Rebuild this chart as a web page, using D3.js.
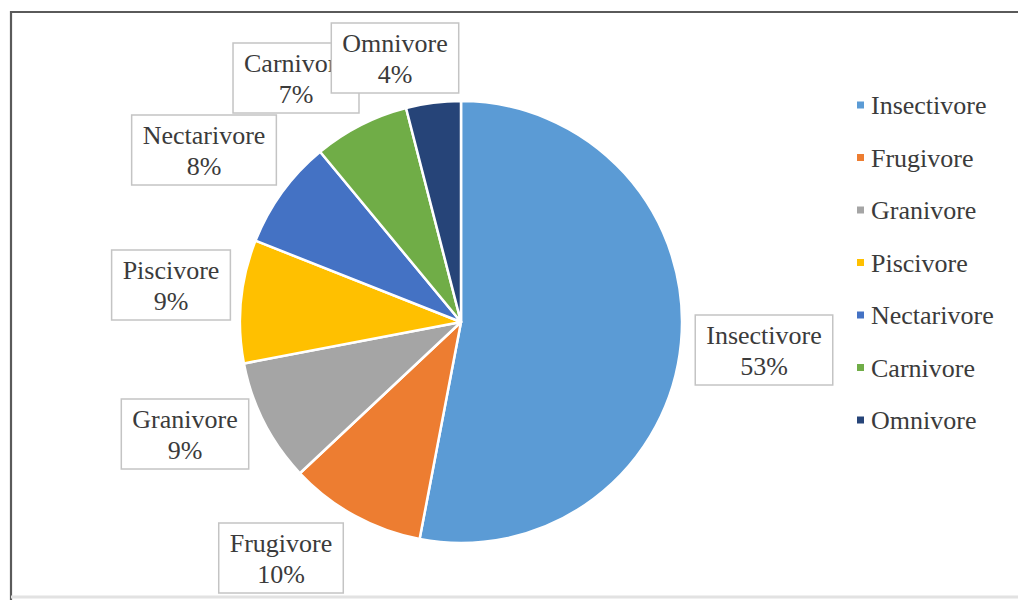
<!DOCTYPE html>
<html>
<head>
<meta charset="utf-8">
<script src="https://cdn.jsdelivr.net/npm/d3@7/dist/d3.min.js"></script>
<style>
  html, body { margin: 0; padding: 0; background: #ffffff; }
  svg { display: block; }
</style>
</head>
<body>
<svg id="chart" width="1018" height="600"></svg>
<script>
// Diet guilds and their share (%)
const categories = ["Insectivore", "Frugivore", "Granivore", "Piscivore", "Nectarivore", "Carnivore", "Omnivore"];
const shares = [53, 10, 9, 9, 8, 7, 4];
const colors = ["#5B9BD5", "#ED7D31", "#A5A5A5", "#FFC000", "#4472C4", "#70AD47", "#264478"];

// Where each data-label box sits (centre, px)
const labelPos = [
  [764, 350], [281, 558], [185, 434], [171, 285], [204, 150], [296, 78], [395, 58]
];

const svg = d3.select("#chart");
const W = 1018, H = 600;
const cx = 461, cy = 322, R = 221;
const font = "'Liberation Serif', 'Times New Roman', serif";
const fontSize = 26;
const textColor = "#3b3b3b";

// outer frame
svg.append("path")
  .attr("d", `M${W + 5},12 H11 V${H + 5}`)
  .attr("fill", "none").attr("stroke", "#5a5a5a").attr("stroke-width", 2.2);
svg.append("line")
  .attr("x1", 11).attr("x2", W).attr("y1", 597).attr("y2", 597)
  .attr("stroke", "#e2e2e2").attr("stroke-width", 3);

const data = categories.map((c, i) => ({ name: c, value: shares[i] }));
const color = d3.scaleOrdinal().domain(categories).range(colors);

const pie = d3.pie().value(d => d.value).sort(null);
const arc = d3.arc().innerRadius(0).outerRadius(R);

const g = svg.append("g").attr("transform", `translate(${cx},${cy})`);
g.selectAll("path.slice")
  .data(pie(data))
  .join("path")
  .attr("class", "slice")
  .attr("d", arc)
  .attr("fill", d => color(d.data.name))
  .attr("stroke", "#ffffff")
  .attr("stroke-width", 2.5)
  .attr("stroke-linejoin", "round");

// data labels: boxed name + percentage
const labels = svg.append("g");
data.forEach((d, i) => {
  const [lx, ly] = labelPos[i];
  const grp = labels.append("g").attr("transform", `translate(${lx},${ly})`);
  const rect = grp.append("rect");
  const t1 = grp.append("text")
    .attr("text-anchor", "middle").attr("y", -6)
    .attr("font-family", font).attr("font-size", fontSize).attr("fill", textColor)
    .text(d.name);
  grp.append("text")
    .attr("text-anchor", "middle").attr("y", 25)
    .attr("font-family", font).attr("font-size", fontSize).attr("fill", textColor)
    .text(d.value + "%");
  const w = t1.node().getComputedTextLength() + 22;
  const h = 70;
  rect.attr("x", -w / 2).attr("y", -h / 2).attr("width", w).attr("height", h)
    .attr("fill", "#ffffff").attr("stroke", "#c4c4c4").attr("stroke-width", 1.5);
});

// legend
const legend = svg.append("g").attr("transform", "translate(857,105)");
const legendRow = legend.selectAll("g")
  .data(categories)
  .join("g")
  .attr("transform", (d, i) => `translate(0,${i * 52.5})`);
legendRow.append("rect")
  .attr("x", 0).attr("y", -3.5).attr("width", 7).attr("height", 7)
  .attr("fill", d => color(d));
legendRow.append("text")
  .attr("x", 14).attr("y", 9)
  .attr("font-family", font).attr("font-size", fontSize).attr("fill", textColor)
  .text(d => d);
</script>
</body>
</html>
